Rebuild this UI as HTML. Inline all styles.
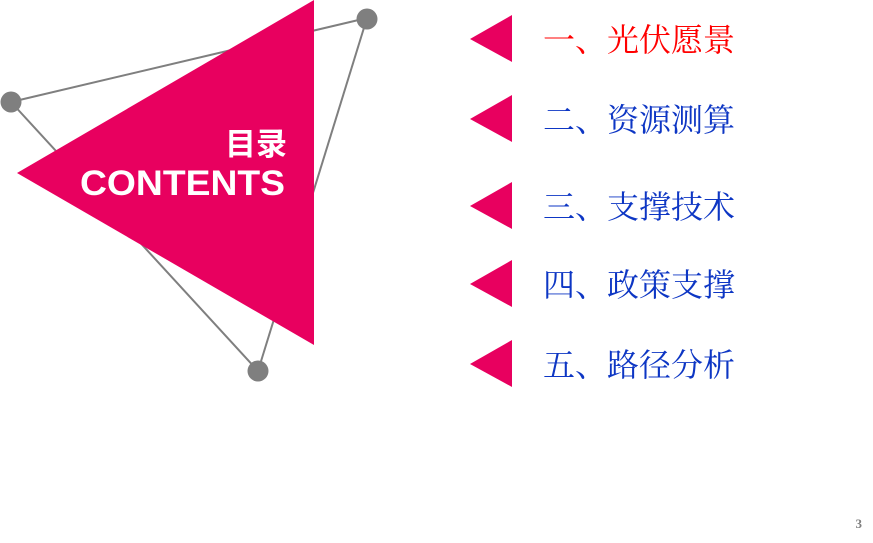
<!DOCTYPE html>
<html><head><meta charset="utf-8"><style>
body{margin:0;width:873px;height:543px;background:#fff;overflow:hidden;position:relative}
.t{position:absolute;left:543px;font-family:"Liberation Serif","Noto Serif CJK SC",serif;font-size:32px;line-height:40px;white-space:nowrap;letter-spacing:0px;color:#0d36c4}
</style></head><body>
<svg width="873" height="543" style="position:absolute;left:0;top:0">
<g stroke="#7f7f7f" stroke-width="2" fill="none">
<line x1="11" y1="102" x2="367" y2="18"/>
<line x1="367" y1="18" x2="258" y2="371"/>
<line x1="11" y1="102" x2="258" y2="371"/>
</g>
<polygon points="17,173 314,0 314,345" fill="#e8005f"/>
<g fill="#7f7f7f">
<circle cx="11" cy="102" r="10.5"/><circle cx="367" cy="19" r="10.5"/><circle cx="258" cy="371" r="10.5"/>
</g>
<g fill="#e8005f">
<polygon points="470,39 512,15 512,62"/>
<polygon points="470,119 512,95 512,142"/>
<polygon points="470,206 512,182 512,229"/>
<polygon points="470,284 512,260 512,307"/>
<polygon points="470,364 512,340 512,387"/>
</g>
<text x="287" y="155" text-anchor="end" fill="#fff" font-family="Liberation Sans,'Noto Sans CJK SC',sans-serif" font-weight="bold" font-size="31">目录</text>
<text x="285" y="195" text-anchor="end" fill="#fff" font-family="Liberation Sans,sans-serif" font-weight="bold" font-size="35" textLength="205" lengthAdjust="spacingAndGlyphs">CONTENTS</text>
<text x="862" y="528" text-anchor="end" fill="#7f7f7f" font-family="Liberation Serif,serif" font-size="13" font-weight="bold">3</text>
</svg>
<div class="t" style="top:20px;color:#ff0000">一、光伏愿景</div>
<div class="t" style="top:100px">二、资源测算</div>
<div class="t" style="top:187px">三、支撑技术</div>
<div class="t" style="top:265px">四、政策支撑</div>
<div class="t" style="top:345px">五、路径分析</div>
</body></html>
